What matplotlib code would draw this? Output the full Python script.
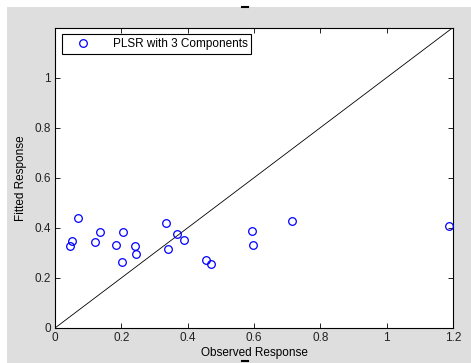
import numpy as np
import matplotlib
matplotlib.use("Agg")
import matplotlib.pyplot as plt
from matplotlib.patches import Rectangle
from matplotlib.lines import Line2D

# observed vs fitted response values
observed = [0.045, 0.050, 0.070, 0.121, 0.137, 0.184, 0.203, 0.206, 0.242, 0.245,
            0.334, 0.340, 0.367, 0.389, 0.456, 0.470, 0.595, 0.598, 0.715, 1.187]
fitted = [0.328, 0.349, 0.440, 0.343, 0.384, 0.332, 0.262, 0.384, 0.328, 0.296,
          0.418, 0.315, 0.375, 0.352, 0.270, 0.255, 0.388, 0.332, 0.426, 0.409]
ref_line = [0, 1.2]
x_ticks = [0, 0.2, 0.4, 0.6, 0.8, 1, 1.2]
y_ticks = [0, 0.2, 0.4, 0.6, 0.8, 1]

plt.rcParams['font.family'] = ['Liberation Sans', 'DejaVu Sans']
fs = 8.5

W, H = 471, 363
fig = plt.figure(figsize=(W / 100, H / 100), dpi=100)
fig.patch.set_facecolor('white')
# gray figure area like MATLAB
fig.patches.append(Rectangle((7 / W, 0), 1 - 7 / W, 1 - 7 / H, transform=fig.transFigure,
                             facecolor='#dedede', edgecolor='none', zorder=-5))
# small dashes at top and bottom
fig.lines.append(Line2D([242 / W, 248 / W], [1 - 7 / H, 1 - 7 / H], transform=fig.transFigure,
                        color='black', lw=1.5))
fig.lines.append(Line2D([242 / W, 248 / W], [1 - 361 / H, 1 - 361 / H], transform=fig.transFigure,
                        color='black', lw=1.5))

ax = fig.add_axes([55 / W, 1 - 328 / H, 398 / W, 300.5 / H])
ax.set_zorder(2)
ax.set_facecolor('white')

ax.plot(observed, fitted, 'o', mfc='none', mec='blue', ms=5.5, mew=0.9,
        label='PLSR with 3 Components', zorder=3)
ax.plot(ref_line, ref_line, color='black', lw=0.6, zorder=2)

ax.set_xlim(0, 1.2)
ax.set_ylim(0, 1.2)
ax.set_xticks(x_ticks)
ax.set_xticklabels(['0', '0.2', '0.4', '0.6', '0.8', '1', '1.2'])
ax.set_yticks(y_ticks)
ax.set_yticklabels(['0', '0.2', '0.4', '0.6', '0.8', '1'])
ax.tick_params(direction='in', length=3.5, width=0.6, top=True, right=True,
               labelsize=fs, labelcolor='#222222', pad=3)
for s in ax.spines.values():
    s.set_linewidth(0.8)

ax.set_xlabel('Observed Response', fontsize=fs, labelpad=2)
ax.set_ylabel('Fitted Response', fontsize=fs, labelpad=5)

leg = ax.legend(loc='upper left', bbox_to_anchor=(7 / 398, 1 - 7 / 300.5),
                borderaxespad=0, fancybox=False, framealpha=1, edgecolor='black',
                handlelength=3, handletextpad=1.0, borderpad=0.3, fontsize=fs)
leg.get_frame().set_linewidth(0.8)

fig.savefig('out.png', dpi=100, facecolor=fig.get_facecolor())
